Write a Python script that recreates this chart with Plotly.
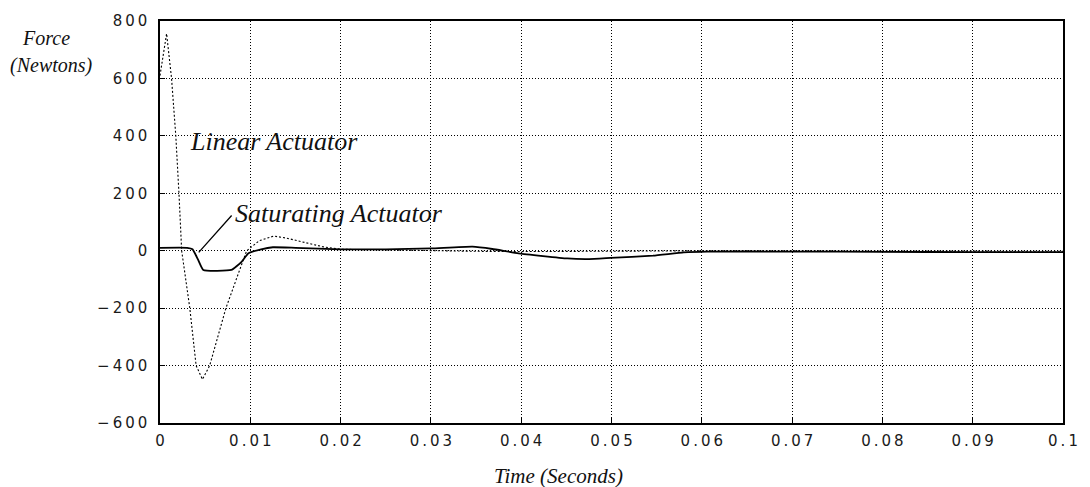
import plotly.graph_objects as go

# Linear actuator (dotted)
t_lin = [0.0, 0.00073, 0.00128, 0.00175, 0.0021, 0.0024, 0.0033, 0.0040, 0.0047,
         0.0055, 0.0064, 0.0073, 0.0085, 0.0096, 0.0110, 0.0126, 0.0140, 0.0160,
         0.0180, 0.0200, 0.0250, 0.0300, 0.0350, 0.0400, 0.0450, 0.0500, 0.0550,
         0.0600, 0.0700, 0.0800, 0.0900, 0.1000]
f_lin = [610, 756, 600, 400, 200, 0, -200, -400, -448,
         -400, -300, -200, -95, 0, 35, 51, 44, 28,
         14, 5, 2, 0, -2, -3, -3, -2, -1,
         0, -1, -2, -2, -2]

# Saturating actuator (solid)
t_sat = [0.0, 0.0030, 0.0036, 0.0042, 0.0048, 0.0079, 0.0090, 0.0098, 0.0112,
         0.0125, 0.0150, 0.0200, 0.0250, 0.0300, 0.0346, 0.0368, 0.0397, 0.0451,
         0.0475, 0.0499, 0.0546, 0.0580, 0.0606, 0.0700, 0.0800, 0.0900, 0.1000]
f_sat = [10, 10, 5, -30, -67, -67, -40, -9, 5,
         12, 10, 5, 5, 8, 14, 6, -9, -27,
         -29, -25, -17, -6, -3, -3, -4, -5, -5]

x_ticks = [0, 0.01, 0.02, 0.03, 0.04, 0.05, 0.06, 0.07, 0.08, 0.09, 0.1]
x_labels = ["0", "0.01", "0.02", "0.03", "0.04", "0.05", "0.06", "0.07", "0.08", "0.09", "0.1"]
y_ticks = [-600, -400, -200, 0, 200, 400, 600, 800]
y_labels = ["\u2212600", "\u2212400", "\u2212200", "0", "200", "400", "600", "800"]

TS = "\u2009"
def spaced(s):
    return TS.join(list(s))

fig = go.Figure()
fig.add_trace(go.Scatter(x=t_lin, y=f_lin, mode="lines",
                         line=dict(color="black", width=1.1, dash="2px,2px"),
                         showlegend=False, hoverinfo="skip"))
fig.add_trace(go.Scatter(x=t_sat, y=f_sat, mode="lines",
                         line=dict(color="black", width=1.8, shape="spline", smoothing=0.4),
                         showlegend=False, hoverinfo="skip"))

tickfont = dict(family="DejaVu Sans", size=15, color="#1a1a1a")
serif = "Liberation Serif"

fig.update_xaxes(range=[0, 0.1], tickvals=x_ticks, ticktext=[spaced(s) for s in x_labels],
                 showgrid=True, gridcolor="black", gridwidth=1, griddash="1px,2px",
                 showline=True, linecolor="black", linewidth=1.5, mirror=True,
                 ticks="inside", ticklen=5, tickcolor="black", tickfont=tickfont,
                 zeroline=False, ticklabelstandoff=3)
fig.update_yaxes(range=[-600, 800], tickvals=y_ticks, ticktext=[spaced(s) for s in y_labels],
                 showgrid=True, gridcolor="black", gridwidth=1, griddash="1px,2px",
                 showline=True, linecolor="black", linewidth=1.5, mirror=True,
                 ticks="inside", ticklen=5, tickcolor="black", tickfont=tickfont,
                 zeroline=False, ticklabelstandoff=8)

annots = [
    dict(text="Linear Actuator", x=0.0031, y=381, xref="x", yref="y",
         xanchor="left", yanchor="middle", showarrow=False,
         font=dict(family=serif, size=26, color="#111", style="italic")),
    dict(text="Saturating Actuator", x=0.0081, y=128, xref="x", yref="y",
         xanchor="left", yanchor="middle", showarrow=False,
         font=dict(family=serif, size=26, color="#111", style="italic")),
    dict(text="", x=0.00429, y=-6, ax=0.00808, ay=128, xref="x", yref="y",
         axref="x", ayref="y", showarrow=True, arrowhead=0, arrowwidth=1.3,
         arrowcolor="black"),
    dict(text="Force", x=-0.155, y=0.958, xref="paper", yref="paper",
         xanchor="left", yanchor="middle", showarrow=False,
         font=dict(family=serif, size=20, color="#111", style="italic")),
    dict(text="(Newtons)", x=-0.168, y=0.889, xref="paper", yref="paper",
         xanchor="left", yanchor="middle", showarrow=False,
         font=dict(family=serif, size=20, color="#111", style="italic")),
    dict(text="Time (Seconds)", x=0.4415, y=-0.131, xref="paper", yref="paper",
         xanchor="center", yanchor="middle", showarrow=False,
         font=dict(family=serif, size=21, color="#111", style="italic")),
]

fig.update_layout(width=1090, height=487, margin=dict(l=160, r=15, t=19, b=64),
                  plot_bgcolor="white", paper_bgcolor="white", annotations=annots)

fig.write_html("out.html")
